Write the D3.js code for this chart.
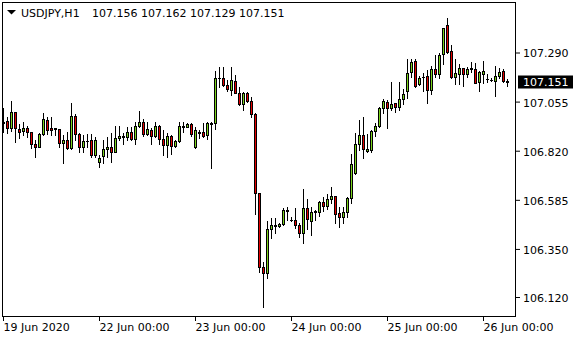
<!DOCTYPE html>
<html>
<head>
<meta charset="utf-8">
<script src="https://cdn.jsdelivr.net/npm/d3@7"></script>
<style>
  body { margin: 0; background: #fff; }
  svg { display: block; }
  text { font-family: "DejaVu Sans", sans-serif; font-size: 11px; }
</style>
</head>
<body>
<svg id="chart"></svg>
<script>
// USDJPY H1, 19 Jun 00:00 .. 26 Jun 06:00
var symbol = "USDJPY,H1";

var open = [
106.951,106.962,106.927,107.004,106.924,106.914,106.930,106.908,106.852,106.839,
106.900,106.967,106.929,106.927,106.922,106.858,106.871,106.831,106.986,106.898,
106.839,106.868,106.871,106.799,106.767,106.796,106.826,106.836,106.815,106.879,
106.887,106.884,106.908,106.874,106.940,106.956,106.898,106.919,106.892,106.938,
106.874,106.847,106.890,106.844,106.866,106.932,106.935,106.946,106.836,106.908,
106.908,106.895,106.951,106.954,107.168,107.169,107.134,107.111,107.153,107.098,
107.042,107.094,107.059,106.994,106.616,106.262,106.233,106.444,106.461,106.460,
106.469,106.533,106.488,106.488,106.463,106.425,106.544,106.485,106.526,106.525,
106.576,106.555,106.589,106.603,106.523,106.504,106.526,106.592,106.712,106.850,
106.895,106.820,106.823,106.916,106.938,107.023,107.051,107.023,107.047,107.027,
107.067,107.106,107.196,107.249,107.138,107.171,107.177,107.111,107.209,107.187,
107.283,107.421,107.299,107.174,107.187,107.214,107.187,107.212,107.209,107.147,
107.187,107.163,107.158,107.155,107.179,107.201,107.156];

var high = [
107.023,106.980,107.058,107.007,106.946,106.957,106.938,106.911,106.871,106.903,
106.999,106.980,106.980,106.930,106.926,106.895,106.909,107.047,106.996,106.903,
106.895,106.900,106.900,106.887,106.799,106.871,106.884,106.903,106.940,106.940,
106.903,106.932,106.932,106.959,107.010,106.970,106.956,106.930,106.956,106.943,
106.919,106.906,106.895,106.871,106.959,106.959,106.954,106.954,106.935,106.919,
106.951,106.959,106.956,107.203,107.219,107.219,107.158,107.219,107.182,107.123,
107.102,107.102,107.075,106.999,106.619,106.289,106.485,106.496,106.496,106.476,
106.544,106.552,106.504,106.544,106.472,106.637,106.589,106.549,106.536,106.581,
106.600,106.611,106.645,106.605,106.549,106.549,106.597,106.804,106.906,106.967,
106.983,106.900,106.919,106.951,107.031,107.067,107.062,107.150,107.050,107.150,
107.114,107.257,107.257,107.257,107.177,107.193,107.206,107.225,107.278,107.289,
107.407,107.457,107.326,107.257,107.235,107.217,107.222,107.244,107.239,107.203,
107.249,107.187,107.166,107.227,107.217,107.211,107.162];

var low = [
106.911,106.906,106.916,106.863,106.879,106.895,106.884,106.831,106.788,106.836,
106.895,106.900,106.895,106.895,106.836,106.763,106.828,106.828,106.871,106.812,
106.812,106.836,106.791,106.791,106.743,106.763,106.791,106.767,106.812,106.871,
106.852,106.871,106.871,106.852,106.935,106.890,106.895,106.852,106.884,106.852,
106.799,106.788,106.804,106.839,106.863,106.911,106.932,106.890,106.833,106.879,
106.884,106.874,106.736,106.922,107.123,107.130,107.107,107.086,107.094,107.037,
107.015,107.055,106.983,106.517,106.241,106.074,106.209,106.401,106.424,106.456,
106.464,106.488,106.483,106.452,106.405,106.380,106.444,106.417,106.488,106.509,
106.533,106.539,106.568,106.472,106.456,106.475,106.501,106.568,106.708,106.823,
106.783,106.815,106.815,106.892,106.932,107.002,106.930,107.015,107.007,107.015,
107.043,107.074,107.171,107.126,107.134,107.107,107.047,107.090,107.171,107.166,
107.235,107.289,107.166,107.138,107.138,107.131,107.174,107.198,107.142,107.107,
107.142,107.147,107.153,107.083,107.166,107.150,107.129];

var close = [
106.959,106.927,107.004,106.927,106.911,106.930,106.908,106.850,106.839,106.898,
106.972,106.919,106.919,106.926,106.858,106.871,106.831,106.986,106.898,106.839,
106.866,106.866,106.799,106.871,106.783,106.826,106.836,106.815,106.879,106.890,
106.889,106.908,106.874,106.940,106.956,106.900,106.922,106.892,106.938,106.874,
106.847,106.890,106.844,106.866,106.938,106.940,106.946,106.898,106.919,106.906,
106.890,106.951,106.949,107.166,107.169,107.134,107.114,107.158,107.098,107.042,
107.094,107.059,106.994,106.616,106.262,106.233,106.444,106.464,106.463,106.468,
106.536,106.534,106.487,106.463,106.425,106.544,106.492,106.528,106.530,106.576,
106.555,106.587,106.603,106.517,106.504,106.526,106.592,106.755,106.850,106.895,
106.826,106.826,106.914,106.938,107.023,107.058,107.023,107.043,107.027,107.066,
107.090,107.193,107.243,107.131,107.169,107.172,107.111,107.209,107.187,107.278,
107.405,107.294,107.174,107.190,107.214,107.187,107.209,107.214,107.145,107.195,
107.201,107.164,107.160,107.179,107.195,107.155,107.151];

// bar index of each day start and its label
var dayTickIdx = [0, 24, 48, 72, 96, 120];
var dayTickLabels = ["19 Jun 2020", "22 Jun 00:00", "23 Jun 00:00", "24 Jun 00:00", "25 Jun 00:00", "26 Jun 00:00"];
var priceTicks = [107.290, 107.055, 106.820, 106.585, 106.350, 106.120];

var W = 580, H = 340;
var plotL = 2, plotT = 2, plotR = 515, plotB = 316;
var bullColor = "#7ad31c", bearColor = "#e40000";

var svg = d3.select("#chart").attr("width", W).attr("height", H);

var bars = open.map(function(o, i) {
  return { i: i, o: o, h: high[i], l: low[i], c: close[i] };
});

var x = d3.scaleLinear().domain([0, bars.length - 1]).range([3, 3 + 4 * (bars.length - 1)]);
var y = d3.scaleLinear().domain([107.290, 106.120]).range([52.5, 297]);

// frame
svg.append("rect")
  .attr("x", plotL + 0.5).attr("y", plotT + 0.5)
  .attr("width", plotR - plotL).attr("height", plotB - plotT)
  .attr("fill", "none").attr("stroke", "#000")
  .attr("shape-rendering", "crispEdges");

var g = svg.append("g").attr("shape-rendering", "crispEdges");

// wicks
g.selectAll(".wick")
  .data(bars)
  .enter().append("line")
  .attr("class", "wick")
  .attr("x1", function(d) { return x(d.i) + 0.5; })
  .attr("x2", function(d) { return x(d.i) + 0.5; })
  .attr("y1", function(d) { return Math.round(y(d.h)); })
  .attr("y2", function(d) { return Math.round(y(d.l)) + 1; })
  .attr("stroke", "#000");

// bodies
var bodyTop = function(d) { return Math.round(y(Math.max(d.o, d.c))); };
var bodyBot = function(d) { return Math.round(y(Math.min(d.o, d.c))); };

g.selectAll(".body")
  .data(bars.filter(function(d) { return bodyBot(d) - bodyTop(d) >= 1; }))
  .enter().append("rect")
  .attr("class", "body")
  .attr("x", function(d) { return x(d.i) - 0.5; })
  .attr("y", function(d) { return bodyTop(d) + 0.5; })
  .attr("width", 2)
  .attr("height", function(d) { return bodyBot(d) - bodyTop(d); })
  .attr("fill", function(d) { return d.c >= d.o ? bullColor : bearColor; })
  .attr("stroke", "#000");

g.selectAll(".doji")
  .data(bars.filter(function(d) { return bodyBot(d) - bodyTop(d) < 1; }))
  .enter().append("line")
  .attr("class", "doji")
  .attr("x1", function(d) { return x(d.i) - 1; })
  .attr("x2", function(d) { return x(d.i) + 2; })
  .attr("y1", function(d) { return bodyTop(d) + 0.5; })
  .attr("y2", function(d) { return bodyTop(d) + 0.5; })
  .attr("stroke", "#000");

// price axis
var yAxis = svg.append("g")
  .attr("transform", "translate(" + (plotR + 1) + ",0)")
  .call(d3.axisRight(y).tickValues(priceTicks).tickFormat(d3.format(".3f")).tickSize(4).tickPadding(3));
yAxis.select(".domain").remove();
yAxis.selectAll("text").attr("dy", "0.4em").attr("fill", "#000")
  .style("font-family", "DejaVu Sans").style("font-size", "11px");

// time axis
var xAxis = svg.append("g")
  .attr("transform", "translate(0," + plotB + ")")
  .call(d3.axisBottom(x).tickValues(dayTickIdx)
    .tickFormat(function(d, k) { return dayTickLabels[k]; })
    .tickSize(5).tickPadding(2));
xAxis.select(".domain").remove();
xAxis.selectAll("text").attr("text-anchor", "start").attr("fill", "#000")
  .style("font-family", "DejaVu Sans").style("font-size", "11px");

// current price marker
var last = bars[bars.length - 1];
var yc = y(last.c);
svg.append("rect")
  .attr("x", 518).attr("y", Math.round(yc) - 6.5)
  .attr("width", 55).attr("height", 13)
  .attr("fill", "#000");
svg.append("text")
  .attr("x", 523).attr("y", Math.round(yc) + 4)
  .attr("fill", "#fff")
  .text(d3.format(".3f")(last.c));

// header
svg.append("path")
  .attr("d", "M7,10 L16,10 L11.5,14.5 Z")
  .attr("fill", "#000");
svg.append("text")
  .attr("x", 21).attr("y", 16.5)
  .attr("fill", "#000")
  .text(symbol);
svg.append("text")
  .attr("x", 92).attr("y", 16.5)
  .attr("fill", "#000")
  .text([last.o, last.h, last.l, last.c].map(d3.format(".3f")).join(" "));
</script>
</body>
</html>
